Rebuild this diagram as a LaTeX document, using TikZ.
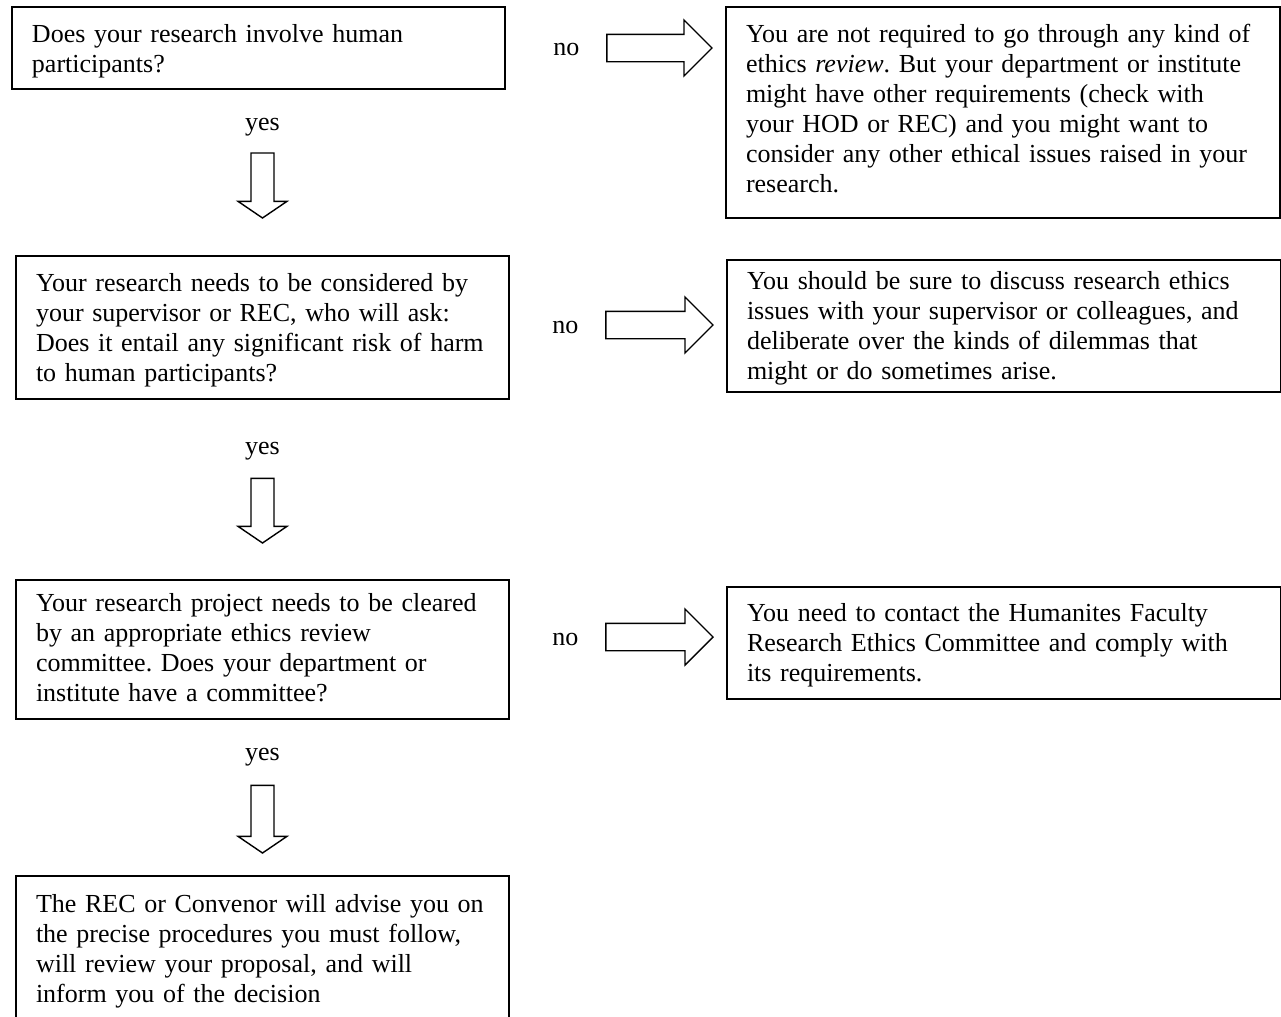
\documentclass[tikz,border=0pt]{standalone}
\usepackage{fontspec}
\setmainfont{Liberation Serif}
\usepackage{tikz}
\usetikzlibrary{positioning,calc}
\tikzset{
  qbox/.style={rectangle, draw=black, line width=1pt, outer sep=0pt, text width=226.5pt, inner xsep=10pt, inner ysep=0pt, align=left},
  abox/.style={rectangle, draw=black, line width=1pt, outer sep=0pt, text width=257pt, inner xsep=10pt, inner ysep=0pt, align=left},
  lbl/.style={inner sep=0pt},
  blk/.style={draw=black, line width=0.7pt, line join=miter},
  node distance=7mm
}
% hollow arrow to the right (shaft start, tip)
\newcommand{\blockright}[2]{%
  \draw[blk] let \p1=(#1), \p2=(#2) in
    (\x1,\y1+6.85pt) -- (\x2-14pt,\y1+6.85pt) -- (\x2-14pt,\y1+14pt) -- (\x2,\y1)
    -- (\x2-14pt,\y1-14pt) -- (\x2-14pt,\y1-6.85pt) -- (\x1,\y1-6.85pt) -- cycle;}
% hollow arrow downwards (shaft start, tip)
\newcommand{\blockdown}[2]{%
  \draw[blk] let \p1=(#1), \p2=(#2) in
    (\x1-5.75pt,\y1) -- (\x1-5.75pt,\y2+8.3pt) -- (\x1-12.2pt,\y2+8.3pt) -- (\x1,\y2)
    -- (\x1+12.2pt,\y2+8.3pt) -- (\x1+5.75pt,\y2+8.3pt) -- (\x1+5.75pt,\y1) -- cycle;}

\begin{document}
\frenchspacing
\begin{tikzpicture}[x=0.5pt, y=-0.5pt, font=\fontsize{13pt}{15pt}\selectfont]
	\useasboundingbox (0,0) rectangle (1281,1017);
	\node[qbox, anchor=north west, text height=17.5pt, text depth=23.5pt] (qa) at (12,7) {Does your research involve human\\participants?};
	\node[qbox, below right=83.5pt and 2pt of qa.south west, text height=17.5pt, text depth=54pt] (qb) {Your research needs to be considered by\\your supervisor or REC, who will ask:\\Does it entail any significant risk of harm\\to human participants?};
	\node[qbox, below=90.5pt of qb.south west, anchor=north west, text height=15.5pt, text depth=54pt] (qc) {Your research project needs to be cleared\\by an appropriate ethics review\\committee. Does your department or\\institute have a committee?};
	\node[qbox, below=78.5pt of qc.south west, anchor=north west, text height=18pt, text depth=70pt] (qd) {The REC or Convenor will advise you on\\the precise procedures you must follow,\\will review your proposal, and will\\inform you of the decision};
	%
	\node[abox, right=110.5pt of qa.north east, anchor=north west, text height=17.5pt, text depth=88pt] (ra) {You are not required to go through any kind of\\ethics \textit{review}. But your department or institute\\might have other requirements (check with\\your HOD or REC) and you might want to\\consider any other ethical issues raised in your\\research.};
	\node[abox, below right=2pt and 109pt of qb.north east, text height=14.5pt, text depth=51.5pt] (rb) {You should be sure to discuss research ethics\\issues with your supervisor or colleagues, and\\deliberate over the kinds of dilemmas that\\might or do sometimes arise.};
	\node[abox, below right=3.5pt and 109pt of qc.north east, text height=17pt, text depth=39pt] (rc) {You need to contact the Humanites Faculty\\Research Ethics Committee and comply with\\its requirements.};
	%
	\node[lbl, right=24pt of qa, yshift=-1pt] (no1) {no};
	\node[lbl, right=21.5pt of qb, yshift=0.25pt] (no2) {no};
	\node[lbl, right=21.5pt of qc, yshift=5.25pt] (no3) {no};
	\node[lbl, above=59.8pt of qb] (yes1) {yes};
	\node[lbl, above=59.8pt of qc] (yes2) {yes};
	\node[lbl, above=54.8pt of qd] (yes3) {yes};
	%
	\blockright{[xshift=13.5pt,yshift=1pt]no1.east}{[xshift=-7pt]ra.west}
	\blockright{[xshift=13.5pt,yshift=1pt]no2.east}{[xshift=-7pt]rb.west}
	\blockright{[xshift=13.5pt,yshift=1pt]no3.east}{[xshift=-7pt]rc.west}
	\blockdown{[yshift=-8.3pt]yes1.south}{[yshift=19pt]qb.north}
	\blockdown{[yshift=-9pt]yes2.south}{[yshift=18.5pt]qc.north}
	\blockdown{[yshift=-9.5pt]yes3.south}{[yshift=11.5pt]qd.north}
\end{tikzpicture}
\end{document}
